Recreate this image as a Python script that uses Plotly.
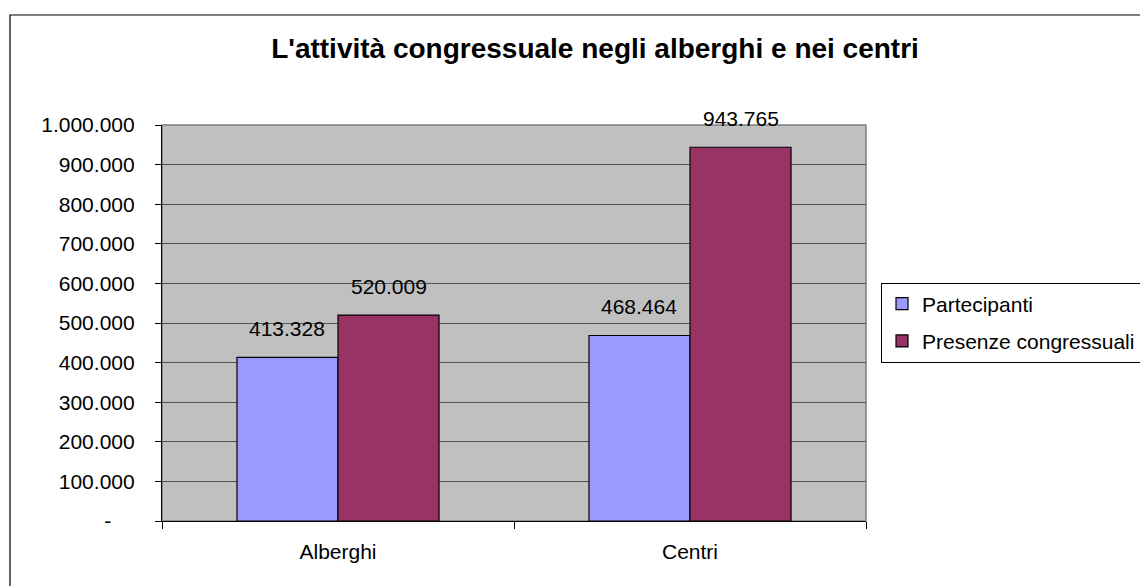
import plotly.graph_objects as go

categories = ["Alberghi", "Centri"]
series_names = ["Partecipanti", "Presenze congressuali"]
partecipanti = [413328, 468464]
presenze = [520009, 943765]
y_tick_values = [0, 100000, 200000, 300000, 400000, 500000, 600000, 700000, 800000, 900000, 1000000]
colors = ["#9999FF", "#993366"]

FONT = "Liberation Sans, Arial, sans-serif"
W, H = 1140, 586
ML, MR, MT, MB = 162, 274, 125, 65
BARGAP = 0.426


def it_num(v):
    return f"{v:,}".replace(",", ".")


y_tick_text = [it_num(v) if v else "-\u00a0\u00a0\u00a0\u00a0" for v in y_tick_values]

fig = go.Figure()
for i, (name, vals) in enumerate(zip(series_names, [partecipanti, presenze])):
    fig.add_trace(go.Bar(
        name=name, x=categories, y=vals,
        marker=dict(color=colors[i], line=dict(color="black", width=1.2)),
        legendgroup=f"g{i}", hoverinfo="skip",
    ))

# data labels above each bar
plot_w = W - ML - MR
plot_h = H - MT - MB
bar_px = plot_w / len(categories) * (1 - BARGAP) / 2
for i, vals in enumerate([partecipanti, presenze]):
    shift = (i - 0.5) * bar_px
    for c, v in zip(categories, vals):
        fig.add_annotation(
            x=c, y=v, xref="x", yref="y", text=it_num(v), showarrow=False,
            xshift=shift, yshift=15, yanchor="bottom", xanchor="center",
            font=dict(family=FONT, size=21, color="black"),
        )

# outer chart border and plot-area border
fig.add_shape(type="rect", xref="paper", yref="paper",
              x0=(10 - ML) / plot_w, x1=(1150 - ML) / plot_w,
              y0=(H - MB - 600) / plot_h, y1=(H - MB - 15) / plot_h,
              line=dict(color="black", width=1.2), layer="below")
fig.add_shape(type="rect", xref="paper", yref="paper", x0=0, x1=1, y0=0, y1=1,
              line=dict(color="#808080", width=1.5), layer="below")

fig.update_layout(
    width=W, height=H,
    margin=dict(l=ML, r=MR, t=MT, b=MB, autoexpand=False),
    paper_bgcolor="white", plot_bgcolor="#C0C0C0",
    barmode="group", bargap=BARGAP, bargroupgap=0,
    font=dict(family=FONT, size=21, color="black"),
    title=dict(text="<b>L'attività congressuale negli alberghi e nei centri</b>",
               x=595 / W, xref="container", xanchor="center",
               y=1 - 48 / H, yref="container", yanchor="middle",
               font=dict(family=FONT, size=28, color="black")),
    legend=dict(x=(881 - ML) / plot_w, xanchor="left",
                y=(H - MB - 322.5) / plot_h, yanchor="middle",
                bordercolor="black", borderwidth=1, bgcolor="white",
                font=dict(family=FONT, size=21, color="black"),
                tracegroupgap=7, traceorder="grouped"),
    showlegend=True,
)
fig.update_yaxes(range=[0, 1000000], tickvals=y_tick_values, ticktext=y_tick_text,
                 showgrid=True, gridcolor="#555555", gridwidth=1,
                 showline=True, linecolor="black", linewidth=1.2,
                 ticks="outside", ticklen=6, tickcolor="black",
                 ticklabelstandoff=16, zeroline=False, fixedrange=True)
fig.update_xaxes(showline=True, linecolor="black", linewidth=1.2,
                 ticks="outside", ticklen=7, tickcolor="black", tickson="boundaries",
                 ticklabelstandoff=12, showgrid=False, fixedrange=True)

fig.write_html("out.html", config={"displayModeBar": False})
